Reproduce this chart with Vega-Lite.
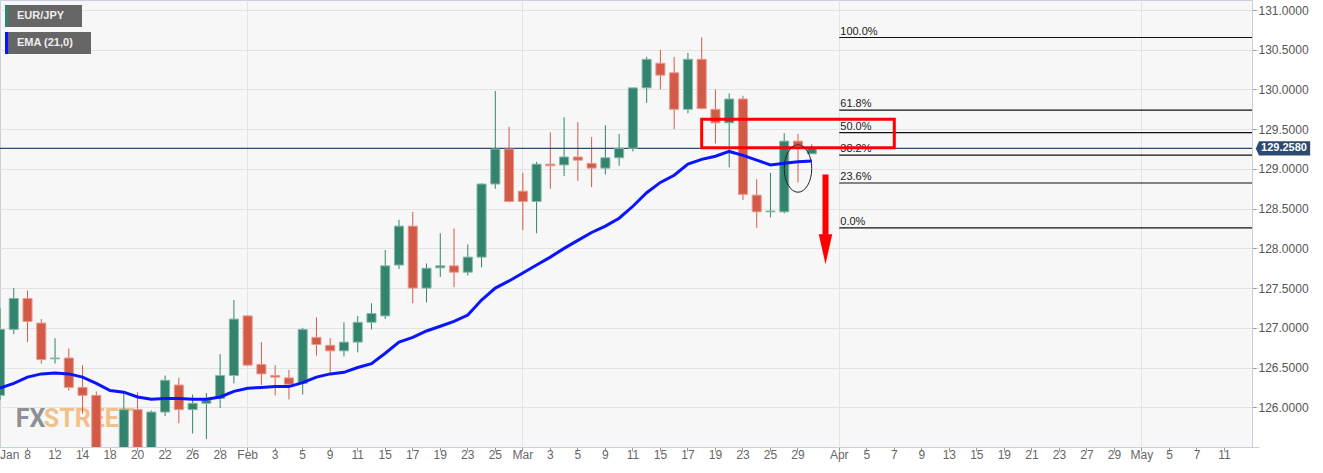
{
  "$schema": "https://vega.github.io/schema/vega-lite/v6.json",
  "width": 1252,
  "height": 447,
  "autosize": {"type": "none"},
  "padding": {"left": 0, "top": 0, "right": 71, "bottom": 26},
  "background": "#ffffff",
  "config": {
    "view": {"fill": "#f7f7f7", "stroke": "#c8d0e0"},
    "axis": {"labelFont": "Liberation Sans", "labelFontSize": 12, "labelColor": "#666666", "tickColor": "#999999", "tickSize": 4, "domainColor": "#c8d0e0", "gridColor": "#e3e3e3"}
  },
  "datasets": {
    "prices": [
      {"date": "2021-01-06", "open": 126.15, "high": 127.25, "low": 126.09, "close": 126.98, "ema": 126.24},
      {"date": "2021-01-07", "open": 126.98, "high": 127.50, "low": 126.92, "close": 127.37, "ema": 126.30},
      {"date": "2021-01-08", "open": 127.37, "high": 127.47, "low": 126.82, "close": 127.08, "ema": 126.38},
      {"date": "2021-01-11", "open": 127.06, "high": 127.11, "low": 126.55, "close": 126.60, "ema": 126.42},
      {"date": "2021-01-12", "open": 126.61, "high": 126.87, "low": 126.55, "close": 126.62, "ema": 126.43},
      {"date": "2021-01-13", "open": 126.62, "high": 126.74, "low": 126.21, "close": 126.25, "ema": 126.42},
      {"date": "2021-01-14", "open": 126.25, "high": 126.53, "low": 125.92, "close": 126.15, "ema": 126.38},
      {"date": "2021-01-15", "open": 126.15, "high": 126.20, "low": 125.20, "close": 125.35, "ema": 126.30},
      {"date": "2021-01-18", "open": 125.35, "high": 125.45, "low": 125.10, "close": 125.30, "ema": 126.21},
      {"date": "2021-01-19", "open": 125.30, "high": 126.19, "low": 125.20, "close": 125.97, "ema": 126.19},
      {"date": "2021-01-20", "open": 125.97, "high": 126.19, "low": 125.25, "close": 125.40, "ema": 126.13},
      {"date": "2021-01-21", "open": 125.40, "high": 125.96, "low": 125.30, "close": 125.94, "ema": 126.10},
      {"date": "2021-01-22", "open": 125.94, "high": 126.40, "low": 125.89, "close": 126.34, "ema": 126.11},
      {"date": "2021-01-25", "open": 126.28, "high": 126.37, "low": 125.80, "close": 125.97, "ema": 126.11},
      {"date": "2021-01-26", "open": 125.97, "high": 126.16, "low": 125.67, "close": 126.05, "ema": 126.10},
      {"date": "2021-01-27", "open": 126.05, "high": 126.18, "low": 125.60, "close": 126.09, "ema": 126.10},
      {"date": "2021-01-28", "open": 126.11, "high": 126.67, "low": 125.99, "close": 126.40, "ema": 126.13},
      {"date": "2021-01-29", "open": 126.40, "high": 127.35, "low": 126.30, "close": 127.11, "ema": 126.20},
      {"date": "2021-02-01", "open": 127.15, "high": 127.16, "low": 126.52, "close": 126.53, "ema": 126.24},
      {"date": "2021-02-02", "open": 126.54, "high": 126.82, "low": 126.28, "close": 126.42, "ema": 126.25},
      {"date": "2021-02-03", "open": 126.40, "high": 126.53, "low": 126.15, "close": 126.38, "ema": 126.26},
      {"date": "2021-02-04", "open": 126.37, "high": 126.47, "low": 126.10, "close": 126.29, "ema": 126.26},
      {"date": "2021-02-05", "open": 126.30, "high": 127.00, "low": 126.16, "close": 126.98, "ema": 126.31},
      {"date": "2021-02-08", "open": 126.88, "high": 127.13, "low": 126.65, "close": 126.79, "ema": 126.38},
      {"date": "2021-02-09", "open": 126.78, "high": 126.87, "low": 126.44, "close": 126.71, "ema": 126.42},
      {"date": "2021-02-10", "open": 126.71, "high": 127.07, "low": 126.64, "close": 126.82, "ema": 126.44},
      {"date": "2021-02-11", "open": 126.82, "high": 127.15, "low": 126.69, "close": 127.07, "ema": 126.50},
      {"date": "2021-02-12", "open": 127.07, "high": 127.31, "low": 126.98, "close": 127.18, "ema": 126.55},
      {"date": "2021-02-15", "open": 127.15, "high": 127.98, "low": 127.11, "close": 127.78, "ema": 126.68},
      {"date": "2021-02-16", "open": 127.79, "high": 128.36, "low": 127.74, "close": 128.28, "ema": 126.82},
      {"date": "2021-02-17", "open": 128.28, "high": 128.46, "low": 127.31, "close": 127.50, "ema": 126.88},
      {"date": "2021-02-18", "open": 127.50, "high": 127.81, "low": 127.32, "close": 127.75, "ema": 126.96},
      {"date": "2021-02-19", "open": 127.755, "high": 128.19, "low": 127.64, "close": 127.78, "ema": 127.02},
      {"date": "2021-02-22", "open": 127.78, "high": 128.25, "low": 127.51, "close": 127.70, "ema": 127.08},
      {"date": "2021-02-23", "open": 127.70, "high": 128.05, "low": 127.66, "close": 127.89, "ema": 127.16},
      {"date": "2021-02-24", "open": 127.89, "high": 128.82, "low": 127.76, "close": 128.81, "ema": 127.35},
      {"date": "2021-02-25", "open": 128.81, "high": 129.98, "low": 128.75, "close": 129.25, "ema": 127.50},
      {"date": "2021-02-26", "open": 129.25, "high": 129.53, "low": 128.58, "close": 128.59, "ema": 127.59},
      {"date": "2021-03-01", "open": 128.72, "high": 128.95, "low": 128.23, "close": 128.59, "ema": 127.69},
      {"date": "2021-03-02", "open": 128.59, "high": 129.09, "low": 128.19, "close": 129.06, "ema": 127.79},
      {"date": "2021-03-03", "open": 129.06, "high": 129.46, "low": 128.75, "close": 129.04, "ema": 127.89},
      {"date": "2021-03-04", "open": 129.05, "high": 129.65, "low": 128.91, "close": 129.15, "ema": 128.00},
      {"date": "2021-03-05", "open": 129.15, "high": 129.59, "low": 128.85, "close": 129.11, "ema": 128.10},
      {"date": "2021-03-08", "open": 129.07, "high": 129.40, "low": 128.77, "close": 129.01, "ema": 128.20},
      {"date": "2021-03-09", "open": 129.01, "high": 129.55, "low": 128.93, "close": 129.14, "ema": 128.28},
      {"date": "2021-03-10", "open": 129.14, "high": 129.44, "low": 129.04, "close": 129.26, "ema": 128.38},
      {"date": "2021-03-11", "open": 129.26, "high": 130.02, "low": 129.22, "close": 130.02, "ema": 128.53},
      {"date": "2021-03-12", "open": 130.02, "high": 130.41, "low": 129.83, "close": 130.38, "ema": 128.70},
      {"date": "2021-03-15", "open": 130.33, "high": 130.50, "low": 130.00, "close": 130.18, "ema": 128.83},
      {"date": "2021-03-16", "open": 130.21, "high": 130.41, "low": 129.50, "close": 129.75, "ema": 128.92},
      {"date": "2021-03-17", "open": 129.75, "high": 130.46, "low": 129.70, "close": 130.38, "ema": 129.06},
      {"date": "2021-03-18", "open": 130.38, "high": 130.654, "low": 129.75, "close": 129.76, "ema": 129.12},
      {"date": "2021-03-19", "open": 129.75, "high": 130.00, "low": 129.32, "close": 129.58, "ema": 129.16},
      {"date": "2021-03-22", "open": 129.58, "high": 129.95, "low": 129.02, "close": 129.88, "ema": 129.22},
      {"date": "2021-03-23", "open": 129.88, "high": 129.92, "low": 128.61, "close": 128.68, "ema": 129.17},
      {"date": "2021-03-24", "open": 128.67, "high": 128.87, "low": 128.258, "close": 128.46, "ema": 129.11},
      {"date": "2021-03-25", "open": 128.46, "high": 128.95, "low": 128.39, "close": 128.47, "ema": 129.05},
      {"date": "2021-03-26", "open": 128.46, "high": 129.45, "low": 128.44, "close": 129.35, "ema": 129.07},
      {"date": "2021-03-29", "open": 129.35, "high": 129.44, "low": 128.83, "close": 129.29, "ema": 129.09},
      {"date": "2021-03-30", "open": 129.19, "high": 129.31, "low": 129.19, "close": 129.258, "ema": 129.10}
    ],
    "fib": [
      {"level": "100.0%", "price": 130.654, "date": "2021-04-01", "end": "2021-05-13"},
      {"level": "61.8%", "price": 129.739, "date": "2021-04-01", "end": "2021-05-13"},
      {"level": "50.0%", "price": 129.456, "date": "2021-04-01", "end": "2021-05-13"},
      {"level": "38.2%", "price": 129.173, "date": "2021-04-01", "end": "2021-05-13"},
      {"level": "23.6%", "price": 128.823, "date": "2021-04-01", "end": "2021-05-13"},
      {"level": "0.0%", "price": 128.258, "date": "2021-04-01", "end": "2021-05-13"}
    ],
    "lastprice": [{"price": 129.258, "label": "129.2580"}],
    "zone": [{"date": "2021-03-18", "end": "2021-04-07", "top": 129.625, "bottom": 129.265}],
    "circle": [{"date": "2021-03-29", "price": 129.005}],
    "arrow": [{"date": "2021-03-31", "start": 128.93, "stop": 128.17, "tip": 127.99}],
    "watermark": [{"date": "2021-01-07", "price": 125.752, "text": "FX"}, {"date": "2021-01-07", "price": 125.752, "text": "STREET"}]
  },
  "layer": [
    {
      "data": {"name": "watermark"},
      "transform": [{"filter": "datum.text == 'FX'"}],
      "mark": {"type": "text", "align": "left", "baseline": "alphabetic", "dx": 2, "font": "Roboto", "fontWeight": "bold", "fontSize": 25, "color": "#8e9096"},
      "encoding": {
        "x": {"field": "date", "type": "ordinal", "title": null},
        "y": {"field": "price", "type": "quantitative", "title": null},
        "text": {"field": "text"}
      }
    },
    {
      "data": {"name": "watermark"},
      "transform": [{"filter": "datum.text == 'STREET'"}],
      "mark": {"type": "text", "align": "left", "baseline": "alphabetic", "dx": 30, "font": "Roboto", "fontWeight": "bold", "fontSize": 25, "color": "#f2c08a"},
      "encoding": {
        "x": {"field": "date", "type": "ordinal", "title": null},
        "y": {"field": "price", "type": "quantitative", "title": null},
        "text": {"field": "text"}
      }
    },
    {
      "data": {"name": "prices"},
      "mark": {"type": "rule", "strokeWidth": 1, "clip": true},
      "encoding": {
        "x": {
          "field": "date", "type": "ordinal", "title": null,
          "scale": {
            "type": "band", "paddingInner": 0, "paddingOuter": 0, "range": [-6.88, 1258.9],
            "domain": ["2021-01-06","2021-01-07","2021-01-08","2021-01-11","2021-01-12","2021-01-13","2021-01-14","2021-01-15","2021-01-18","2021-01-19","2021-01-20","2021-01-21","2021-01-22","2021-01-25","2021-01-26","2021-01-27","2021-01-28","2021-01-29","2021-02-01","2021-02-02","2021-02-03","2021-02-04","2021-02-05","2021-02-08","2021-02-09","2021-02-10","2021-02-11","2021-02-12","2021-02-15","2021-02-16","2021-02-17","2021-02-18","2021-02-19","2021-02-22","2021-02-23","2021-02-24","2021-02-25","2021-02-26","2021-03-01","2021-03-02","2021-03-03","2021-03-04","2021-03-05","2021-03-08","2021-03-09","2021-03-10","2021-03-11","2021-03-12","2021-03-15","2021-03-16","2021-03-17","2021-03-18","2021-03-19","2021-03-22","2021-03-23","2021-03-24","2021-03-25","2021-03-26","2021-03-29","2021-03-30","2021-03-31","2021-04-01","2021-04-02","2021-04-05","2021-04-06","2021-04-07","2021-04-08","2021-04-09","2021-04-12","2021-04-13","2021-04-14","2021-04-15","2021-04-16","2021-04-19","2021-04-20","2021-04-21","2021-04-22","2021-04-23","2021-04-26","2021-04-27","2021-04-28","2021-04-29","2021-04-30","2021-05-03","2021-05-04","2021-05-05","2021-05-06","2021-05-07","2021-05-10","2021-05-11","2021-05-12","2021-05-13"]
          },
          "axis": {
            "orient": "bottom",
            "values": ["2021-01-06","2021-01-08","2021-01-12","2021-01-14","2021-01-18","2021-01-20","2021-01-22","2021-01-26","2021-01-28","2021-02-01","2021-02-03","2021-02-05","2021-02-09","2021-02-11","2021-02-15","2021-02-17","2021-02-19","2021-02-23","2021-02-25","2021-03-01","2021-03-03","2021-03-05","2021-03-09","2021-03-11","2021-03-15","2021-03-17","2021-03-19","2021-03-23","2021-03-25","2021-03-29","2021-04-01","2021-04-05","2021-04-07","2021-04-09","2021-04-13","2021-04-15","2021-04-19","2021-04-21","2021-04-23","2021-04-27","2021-04-29","2021-05-03","2021-05-05","2021-05-07","2021-05-11"],
            "labelExpr": "indexof(['2021-01-06','2021-02-01','2021-03-01','2021-04-01','2021-05-03'], datum.value) >= 0 ? ['Jan','Feb','Mar','Apr','May'][toNumber(substring(datum.value,5,7)) - 1] : '' + toNumber(substring(datum.value,8,10))",
            "labelAngle": 0, "labelOverlap": false, "labelPadding": 3,
            "labelAlign": {"condition": {"test": "datum.value == '2021-01-06'", "value": "left"}, "value": "center"},
            "grid": true,
            "gridOpacity": {"condition": {"test": "indexof(['2021-02-01','2021-03-01','2021-04-01','2021-05-03'], datum.value) >= 0", "value": 1}, "value": 0}
          }
        },
        "y": {
          "field": "low", "type": "quantitative", "title": null,
          "scale": {"domain": [125.5, 131.126], "nice": false, "zero": false},
          "axis": {"orient": "right", "values": [126, 126.5, 127, 127.5, 128, 128.5, 129, 129.5, 130, 130.5, 131], "format": ".4f", "labelColor": "#555555", "labelPadding": 2, "grid": true}
        },
        "y2": {"field": "high"},
        "color": {"condition": {"test": "datum.close >= datum.open", "value": "#32846e"}, "value": "#d45a48"}
      }
    },
    {
      "data": {"name": "lastprice"},
      "mark": {"type": "rule", "color": "#2a4a74", "strokeWidth": 1.3},
      "encoding": {
        "y": {"field": "price", "type": "quantitative", "title": null},
        "strokeDash": {
          "datum": "EUR/JPY",
          "legend": {"orient": "none", "legendX": 5, "legendY": 5, "title": null, "padding": 0, "fillColor": "#666666", "symbolType": "M -1 -1 L -0.72 -1 L -0.72 1 L -1 1 Z M 6 0 L 6 0.01 L 6 0 Z", "symbolSize": 484, "symbolFillColor": "#32846e", "symbolStrokeColor": "#32846e", "symbolStrokeWidth": 0, "labelOffset": -10, "labelFont": "Liberation Sans", "labelFontSize": 11, "labelFontWeight": "bold", "labelColor": "#eeeeee"}
        }
      }
    },
    {
      "data": {"name": "fib"},
      "mark": {"type": "rule", "color": "#111111", "strokeWidth": 1.2},
      "encoding": {
        "x": {"field": "date", "type": "ordinal", "title": null},
        "x2": {"field": "end"},
        "y": {"field": "price", "type": "quantitative", "title": null}
      }
    },
    {
      "data": {"name": "fib"},
      "mark": {"type": "text", "align": "left", "baseline": "alphabetic", "dx": 1, "dy": -3, "font": "Liberation Sans", "fontSize": 11, "color": "#222222"},
      "encoding": {
        "x": {"field": "date", "type": "ordinal", "title": null},
        "y": {"field": "price", "type": "quantitative", "title": null},
        "text": {"field": "level"}
      }
    },
    {
      "data": {"name": "prices"},
      "mark": {"type": "bar", "width": {"band": 0.66}, "strokeWidth": 1, "clip": true},
      "encoding": {
        "x": {"field": "date", "type": "ordinal", "title": null},
        "y": {"field": "open", "type": "quantitative", "title": null},
        "y2": {"field": "close"},
        "fill": {"condition": {"test": "datum.close >= datum.open", "value": "#32846e"}, "value": "#d45a48"},
        "stroke": {"condition": {"test": "datum.close >= datum.open", "value": "#86b8a9"}, "value": "#e89b90"}
      }
    },
    {
      "data": {"name": "prices"},
      "mark": {"type": "line", "strokeWidth": 3, "clip": true},
      "encoding": {
        "x": {"field": "date", "type": "ordinal", "title": null},
        "y": {"field": "ema", "type": "quantitative", "title": null},
        "stroke": {
          "datum": "EMA (21,0)",
          "scale": {"range": ["#0a14ff"]},
          "legend": {"orient": "none", "legendX": 5, "legendY": 32, "title": null, "padding": 0, "fillColor": "#666666", "symbolType": "M -1 -1 L -0.72 -1 L -0.72 1 L -1 1 Z M 6.73 0 L 6.73 0.01 L 6.73 0 Z", "symbolSize": 484, "symbolFillColor": "#0a14ff", "symbolStrokeColor": "#0a14ff", "symbolStrokeWidth": 0, "labelOffset": -10, "labelFont": "Liberation Sans", "labelFontSize": 11, "labelFontWeight": "bold", "labelColor": "#eeeeee"}
        }
      }
    },
    {
      "data": {"name": "zone"},
      "mark": {"type": "rect", "fill": null, "fillOpacity": 0, "stroke": "#ff0000", "strokeWidth": 3},
      "encoding": {
        "x": {"field": "date", "type": "ordinal", "title": null, "bandPosition": 0.5},
        "x2": {"field": "end"},
        "y": {"field": "top", "type": "quantitative", "title": null},
        "y2": {"field": "bottom"}
      }
    },
    {
      "data": {"name": "circle"},
      "mark": {"type": "point", "shape": "M -0.58 0 A 0.58 1 0 1 1 0.58 0 A 0.58 1 0 1 1 -0.58 0 Z", "size": 2247, "filled": false, "stroke": "#222222", "strokeWidth": 1, "opacity": 1},
      "encoding": {
        "x": {"field": "date", "type": "ordinal", "title": null},
        "y": {"field": "price", "type": "quantitative", "title": null}
      }
    },
    {
      "data": {"name": "arrow"},
      "mark": {"type": "rule", "color": "#ff0000", "strokeWidth": 6},
      "encoding": {
        "x": {"field": "date", "type": "ordinal", "title": null},
        "y": {"field": "start", "type": "quantitative", "title": null},
        "y2": {"field": "stop"}
      }
    },
    {
      "data": {"name": "arrow"},
      "mark": {"type": "point", "shape": "M -0.45 -1 L 0.45 -1 L 0 1 Z", "size": 900, "filled": true, "color": "#ff0000", "opacity": 1},
      "encoding": {
        "x": {"field": "date", "type": "ordinal", "title": null},
        "y": {"field": "tip", "type": "quantitative", "title": null}
      }
    },
    {
      "data": {"name": "lastprice"},
      "mark": {"type": "point", "shape": "M -0.905 0 L -0.8 -0.24 L 0.905 -0.24 L 0.905 0.24 L -0.8 0.24 Z", "size": 3600, "filled": true, "color": "#2c4a70", "opacity": 1, "x": {"expr": "width"}, "xOffset": 31},
      "encoding": {
        "y": {"field": "price", "type": "quantitative", "title": null}
      }
    },
    {
      "data": {"name": "lastprice"},
      "mark": {"type": "text", "align": "center", "baseline": "middle", "font": "Liberation Sans", "fontSize": 11, "fontWeight": "bold", "color": "#ffffff", "x": {"expr": "width"}, "dx": 32},
      "encoding": {
        "y": {"field": "price", "type": "quantitative", "title": null},
        "text": {"field": "label"}
      }
    }
  ]
}
